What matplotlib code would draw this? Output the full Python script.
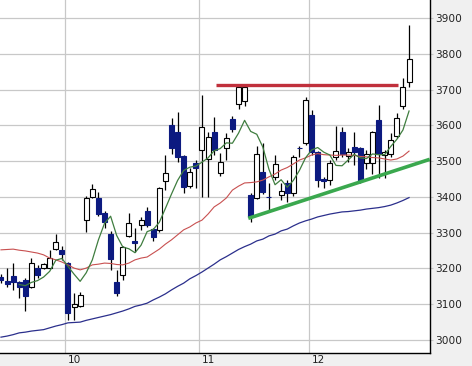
import numpy as np
import matplotlib
matplotlib.use("Agg")
import matplotlib.pyplot as plt
import matplotlib.transforms as mtransforms

# daily candles (oldest first)
opens = [3177, 3165, 3179, 3163, 3168, 3149, 3201, 3201, 3201, 3254,
         3252, 3215, 3092, 3096, 3335, 3400, 3398, 3355, 3296, 3162,
         3182, 3291, 3277, 3321, 3361, 3310, 3308, 3444, 3601, 3582,
         3514, 3430, 3495, 3531, 3506, 3582, 3468, 3537, 3618, 3660,
         3669, 3405, 3397, 3470, 3400, 3456, 3405, 3440, 3411, 3537,
         3551, 3629, 3526, 3450, 3447, 3512, 3582, 3515, 3540, 3537,
         3495, 3495, 3615, 3517, 3520, 3571, 3655, 3722]
highs = [3184, 3201, 3215, 3166, 3173, 3229, 3210, 3215, 3252, 3296,
         3263, 3218, 3131, 3134, 3402, 3436, 3414, 3361, 3305, 3196,
         3263, 3355, 3313, 3344, 3373, 3313, 3428, 3517, 3620, 3638,
         3517, 3481, 3503, 3685, 3581, 3624, 3524, 3579, 3626, 3713,
         3713, 3411, 3542, 3551, 3439, 3517, 3439, 3447, 3517, 3542,
         3680, 3643, 3529, 3456, 3503, 3598, 3596, 3537, 3582, 3540,
         3531, 3585, 3657, 3531, 3579, 3635, 3732, 3880]
lows = [3159, 3148, 3140, 3117, 3082, 3146, 3173, 3198, 3198, 3251,
        3224, 3056, 3056, 3093, 3303, 3397, 3347, 3313, 3196, 3123,
        3168, 3288, 3247, 3308, 3316, 3278, 3303, 3419, 3520, 3498,
        3411, 3425, 3425, 3400, 3400, 3517, 3458, 3503, 3581, 3646,
        3654, 3331, 3394, 3408, 3363, 3447, 3391, 3387, 3403, 3511,
        3545, 3517, 3429, 3425, 3433, 3503, 3512, 3498, 3489, 3439,
        3478, 3464, 3453, 3453, 3512, 3565, 3646, 3708]
closes = [3168, 3156, 3163, 3148, 3124, 3215, 3182, 3212, 3229, 3275,
          3240, 3076, 3101, 3126, 3397, 3422, 3352, 3331, 3226, 3131,
          3261, 3328, 3272, 3335, 3321, 3289, 3426, 3467, 3537, 3512,
          3429, 3470, 3481, 3595, 3568, 3531, 3498, 3565, 3590, 3708,
          3708, 3345, 3520, 3415, 3399, 3492, 3416, 3412, 3512, 3536,
          3671, 3526, 3447, 3445, 3495, 3529, 3520, 3526, 3526, 3445,
          3520, 3581, 3520, 3526, 3559, 3621, 3708, 3785]

# moving average lines as drawn on the chart
ma_short = [np.nan, np.nan, np.nan,
            3155, 3152, 3161, 3166, 3176, 3192, 3223, 3228, 3206, 3184,
            3164, 3188, 3224, 3280, 3326, 3346, 3292, 3260, 3255, 3244,
            3265, 3303, 3309, 3329, 3368, 3408, 3446, 3474, 3483, 3486,
            3497, 3509, 3529, 3535, 3551, 3550, 3578, 3614, 3583, 3575,
            3539, 3477, 3434, 3448, 3427, 3446, 3474, 3509, 3531, 3538,
            3525, 3517, 3488, 3487, 3503, 3519, 3509, 3507, 3520, 3518,
            3518, 3541, 3561, 3587, 3640]
ma_mid = [3252, 3253, 3254, 3251, 3249, 3246, 3243, 3238, 3229, 3224,
          3218, 3210, 3201, 3196, 3201, 3210, 3212, 3215, 3214, 3211,
          3210, 3215, 3224, 3229, 3232, 3243, 3254, 3268, 3280, 3294,
          3308, 3316, 3327, 3335, 3352, 3372, 3383, 3397, 3419, 3430,
          3439, 3440, 3442, 3447, 3456, 3464, 3475, 3482, 3492, 3503,
          3509, 3517, 3521, 3518, 3517, 3516, 3517, 3517, 3516, 3513,
          3512, 3510, 3509, 3506, 3503, 3506, 3514, 3528]
ma_long = [3008, 3011, 3015, 3020, 3022, 3025, 3027, 3029, 3034, 3039,
           3043, 3048, 3049, 3050, 3055, 3059, 3063, 3067, 3071, 3076,
           3081, 3087, 3094, 3098, 3103, 3112, 3120, 3129, 3140, 3150,
           3159, 3171, 3180, 3190, 3201, 3212, 3224, 3233, 3243, 3253,
           3261, 3268, 3277, 3282, 3291, 3296, 3305, 3310, 3319, 3327,
           3333, 3338, 3344, 3348, 3352, 3355, 3358, 3359, 3361, 3363,
           3366, 3368, 3370, 3373, 3377, 3383, 3390, 3398]

# month boundaries (candle index) and labels
month_starts = [10.5, 32.5, 50.5]
month_labels = ["10", "11", "12"]

# hand drawn trend lines
resistance_x = [35.3, 65.2]
resistance_y = [3712, 3712]
support_x = [40.6, 70.4]
support_y = [3340, 3505]

price_ticks = [3000, 3100, 3200, 3300, 3400, 3500, 3600, 3700, 3800, 3900]

DOWN = "#0c1a80"

fig = plt.figure(figsize=(4.72, 3.66), dpi=100, facecolor="#f0f0f0")
ax = fig.add_axes([0, 0.0363, 0.911, 0.9637])
ax.set_facecolor("white")

o = np.array(opens)
c = np.array(closes)
idx = np.arange(len(o))
up = c >= o

# wicks, then bodies on top
ax.vlines(idx, lows, highs, color="black", linewidth=0.9, zorder=2)
bottoms = np.minimum(o, c)
heights = np.maximum(np.abs(c - o), 1)
ax.bar(idx[up], heights[up], bottom=bottoms[up], width=0.82,
       color="white", edgecolor="black", linewidth=0.8, zorder=3)
ax.bar(idx[~up], heights[~up], bottom=bottoms[~up], width=0.82,
       color=DOWN, edgecolor=DOWN, linewidth=0.8, zorder=3)

ax.plot(idx, ma_long, color="#2b2f8c", linewidth=0.9, zorder=4)
ax.plot(idx, ma_mid, color="#c85050", linewidth=0.8, zorder=4)
ax.plot(idx, ma_short, color="#3f7d3f", linewidth=0.9, zorder=4)

ax.plot(resistance_x, resistance_y, color="#c0303c", linewidth=2.4,
        solid_capstyle="butt", zorder=5)
ax.plot(support_x, support_y, color="#3aa84e", linewidth=2.6,
        solid_capstyle="butt", zorder=5)

ax.set_xlim(-0.16, 70.44)
ax.set_ylim(2964.5, 3950.3)

ax.set_yticks(price_ticks)
ax.yaxis.tick_right()
ax.tick_params(axis="y", length=2, pad=2, labelsize=7.6, colors="#c8c8c8",
               labelcolor="#222222")
ax.set_xticks(month_starts)
ax.set_xticklabels(month_labels, ha="left")
ax.tick_params(axis="x", length=0, pad=1.8, labelsize=7.6, labelcolor="#222222")
# month labels sit a few pixels right of the grid line
offset = mtransforms.ScaledTranslation(3 / 100, 0, fig.dpi_scale_trans)
for lab in ax.get_xticklabels():
    lab.set_transform(lab.get_transform() + offset)

ax.grid(True, color="#c8c8c8", linewidth=0.9, zorder=0)
ax.set_axisbelow(True)

for side in ["left", "top"]:
    ax.spines[side].set_visible(False)
for side in ["right", "bottom"]:
    ax.spines[side].set_color("black")
    ax.spines[side].set_linewidth(1.0)

fig.savefig("out.png", dpi=100, facecolor=fig.get_facecolor())
